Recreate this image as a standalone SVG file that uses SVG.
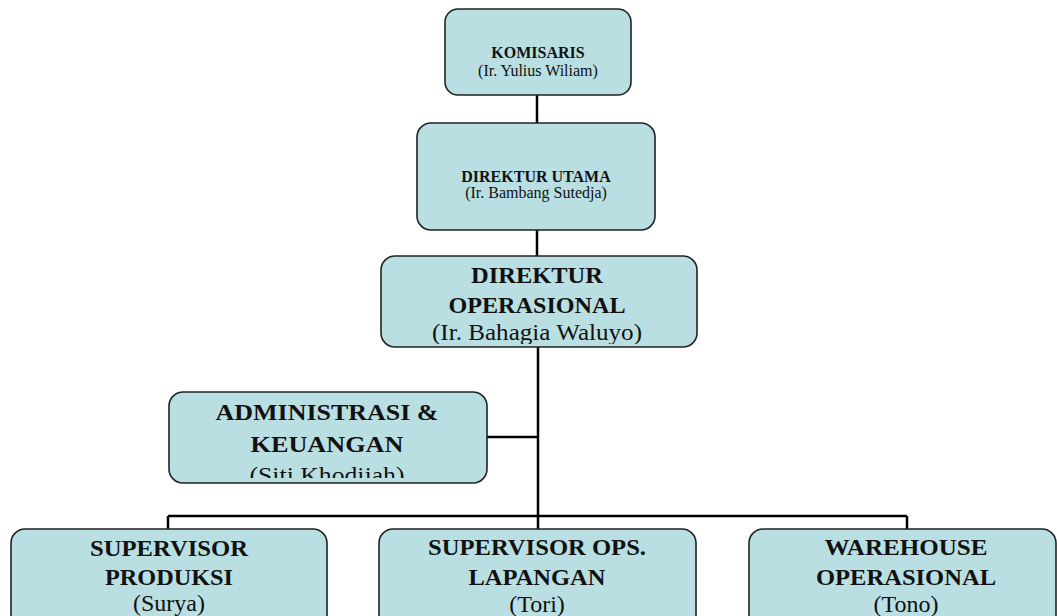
<svg xmlns="http://www.w3.org/2000/svg" width="1057" height="616" viewBox="0 0 1057 616">
<style>
.box{fill:#B9DFE3;stroke:#222;stroke-width:1.6}
.t{font-family:"Liberation Serif","Times New Roman",serif;fill:#111;text-anchor:middle}
.b{font-weight:bold}
.s{font-size:16px}
.l{font-size:24px}
.conn{stroke:#000;stroke-width:2.5;fill:none}
</style>
<defs>
<clipPath id="cOps"><rect x="381" y="256" width="316" height="88"/></clipPath>
<clipPath id="cAdm"><rect x="169" y="392" width="318" height="86"/></clipPath>
</defs>
<rect width="1057" height="616" fill="#fff"/>
<g id="connectors">
<path class="conn" d="M537 95V123M537 230V256M538 347V529M487 437H538M168 516H907M168 516V529M907 516V529"/>
</g>
<g id="komisaris">
<rect class="box" x="445" y="9" width="186" height="86" rx="13"/>
<text class="t b s" x="538" y="58">KOMISARIS</text>
<text class="t s" x="538" y="76">(Ir. Yulius Wiliam)</text>
</g>
<g id="direktur-utama">
<rect class="box" x="417" y="123" width="238" height="107" rx="14"/>
<text class="t b s" x="536" y="182">DIREKTUR UTAMA</text>
<text class="t s" x="536" y="198">(Ir. Bambang Sutedja)</text>
</g>
<g id="direktur-operasional">
<rect class="box" x="381" y="256" width="316" height="91" rx="14"/>
<g clip-path="url(#cOps)">
<text class="t b l" x="537" y="283" textLength="132" lengthAdjust="spacingAndGlyphs">DIREKTUR</text>
<text class="t b l" x="537" y="313" textLength="177" lengthAdjust="spacingAndGlyphs">OPERASIONAL</text>
<text class="t l" x="537" y="340" textLength="210" lengthAdjust="spacingAndGlyphs">(Ir. Bahagia Waluyo)</text>
</g>
</g>
<g id="administrasi-keuangan">
<rect class="box" x="169" y="392" width="318" height="91" rx="14"/>
<g clip-path="url(#cAdm)">
<text class="t b l" x="327" y="420" textLength="223" lengthAdjust="spacingAndGlyphs">ADMINISTRASI &amp;</text>
<text class="t b l" x="327" y="452" textLength="153" lengthAdjust="spacingAndGlyphs">KEUANGAN</text>
<text class="t l" x="327" y="483" textLength="155" lengthAdjust="spacingAndGlyphs">(Siti Khodijah)</text>
</g>
</g>
<g id="supervisor-produksi">
<rect class="box" x="11" y="529" width="316" height="110" rx="14"/>
<text class="t b l" x="169" y="556" textLength="158" lengthAdjust="spacingAndGlyphs">SUPERVISOR</text>
<text class="t b l" x="169" y="585" textLength="128" lengthAdjust="spacingAndGlyphs">PRODUKSI</text>
<text class="t l" x="169" y="611">(Surya)</text>
</g>
<g id="supervisor-ops-lapangan">
<rect class="box" x="379" y="529" width="317" height="110" rx="14"/>
<text class="t b l" x="537" y="555" textLength="218" lengthAdjust="spacingAndGlyphs">SUPERVISOR OPS.</text>
<text class="t b l" x="537" y="585" textLength="137" lengthAdjust="spacingAndGlyphs">LAPANGAN</text>
<text class="t l" x="537" y="612">(Tori)</text>
</g>
<g id="warehouse-operasional">
<rect class="box" x="749" y="529" width="307" height="110" rx="14"/>
<text class="t b l" x="906" y="555" textLength="163" lengthAdjust="spacingAndGlyphs">WAREHOUSE</text>
<text class="t b l" x="906" y="585" textLength="180" lengthAdjust="spacingAndGlyphs">OPERASIONAL</text>
<text class="t l" x="906" y="612">(Tono)</text>
</g>
</svg>
